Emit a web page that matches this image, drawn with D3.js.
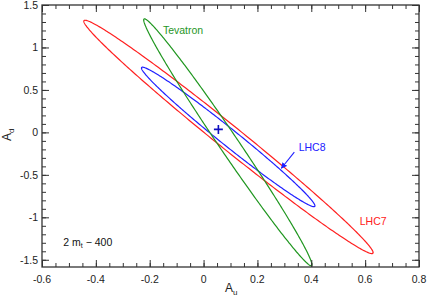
<!DOCTYPE html>
<html>
<head>
<meta charset="utf-8">
<script src="https://cdn.jsdelivr.net/npm/d3@7"></script>
<style>
  body { margin: 0; background: #fff; }
  svg text { font-family: "Liberation Sans", Arial, sans-serif; }
</style>
</head>
<body>
<svg id="chart" width="427" height="300"></svg>
<script>
// ellipse = two ends of the long axis + one end of the short (conjugate) axis
const ellipseNames = ["LHC7", "LHC8", "Tevatron"];
const ellipseColors = ["#ff2020", "#2020ff", "#1f961f"];
const tipA = [[-0.444, 1.316], [-0.230, 0.764], [-0.221, 1.336]];
const tipB = [[0.629, -1.423], [0.413, -0.871], [0.401, -1.569]];
const sidePt = [[0.120, 0.057], [0.111, 0.025], [0.119, -0.054]];
const bestFit = [0.055, 0.035];

const xTicks = [-0.6, -0.4, -0.2, 0, 0.2, 0.4, 0.6, 0.8];
const yTicks = [-1.5, -1, -0.5, 0, 0.5, 1, 1.5];

const width = 427, height = 300;
const margin = {left: 42, right: 8, top: 5, bottom: 33};

const x = d3.scaleLinear().domain([-0.6, 0.8]).range([margin.left, width - margin.right]);
const y = d3.scaleLinear().domain([-1.585, 1.5]).range([height - margin.bottom, margin.top]);

const svg = d3.select("#chart");

// ellipses
const line = d3.line().x(d => x(d[0])).y(d => y(d[1])).curve(d3.curveLinearClosed);
ellipseNames.forEach((name, i) => {
    const c = [(tipA[i][0] + tipB[i][0]) / 2, (tipA[i][1] + tipB[i][1]) / 2];
    const a = [tipA[i][0] - c[0], tipA[i][1] - c[1]];
    const b = [sidePt[i][0] - c[0], sidePt[i][1] - c[1]];
    const pts = d3.range(0, 2 * Math.PI, Math.PI / 180).map(t => [
        c[0] + a[0] * Math.cos(t) + b[0] * Math.sin(t),
        c[1] + a[1] * Math.cos(t) + b[1] * Math.sin(t)
    ]);
    svg.append("path")
        .attr("d", line(pts))
        .attr("fill", "none")
        .attr("stroke", ellipseColors[i])
        .attr("stroke-width", 1.2);
});

// best fit point
svg.append("path")
    .attr("d", d3.symbol(d3.symbolPlus, 28)())
    .attr("transform", `translate(${x(bestFit[0])},${y(bestFit[1])})`)
    .attr("fill", "none")
    .attr("stroke", "#1010c0")
    .attr("stroke-width", 1.6);

// axes, ticks on all four sides pointing inward
const axisColor = "#333";
function minor(domain, step) {
    return d3.range(Math.ceil(domain[0] / step), Math.floor(domain[1] / step) + 1).map(k => k * step);
}
const xMinor = minor(x.domain(), 0.05);
const yMinor = minor(y.domain(), 0.1);

function drawAxis(axisGen, transform, ticks, minorTicks, majorLen, minorLen) {
    const gMinor = svg.append("g").attr("transform", transform)
        .call(axisGen.tickValues(minorTicks).tickSize(minorLen).tickFormat(""));
    gMinor.select(".domain").remove();
    gMinor.selectAll("line").attr("stroke", axisColor).attr("stroke-width", 1);
    const g = svg.append("g").attr("transform", transform)
        .call(axisGen.tickValues(ticks).tickSize(majorLen).tickFormat(""));
    g.select(".domain").remove();
    g.selectAll("line").attr("stroke", axisColor).attr("stroke-width", 1);
    return g;
}

drawAxis(d3.axisTop(x), `translate(0,${y.range()[0]})`, xTicks, xMinor, 7, 4);
drawAxis(d3.axisBottom(x), `translate(0,${y.range()[1]})`, xTicks, xMinor, 7, 4);
drawAxis(d3.axisRight(y), `translate(${x.range()[0]},0)`, yTicks, yMinor, 7, 4);
drawAxis(d3.axisLeft(y), `translate(${x.range()[1]},0)`, yTicks, yMinor, 7, 4);

// frame
svg.append("rect")
    .attr("x", x.range()[0]).attr("y", y.range()[1])
    .attr("width", x.range()[1] - x.range()[0])
    .attr("height", y.range()[0] - y.range()[1])
    .attr("fill", "none").attr("stroke", axisColor).attr("stroke-width", 1.3);

// tick labels
svg.append("g").selectAll("text").data(xTicks).join("text")
    .attr("x", d => x(d)).attr("y", y.range()[0] + 16)
    .attr("text-anchor", "middle")
    .attr("font-size", 10.5).attr("fill", "#222")
    .text(d => d);
svg.append("g").selectAll("text").data(yTicks).join("text")
    .attr("x", x.range()[0] - 4).attr("y", d => y(d) + 4)
    .attr("text-anchor", "end")
    .attr("font-size", 10.5).attr("fill", "#222")
    .text(d => d);

// axis titles
const xl = svg.append("text").attr("x", 225).attr("y", 292).attr("font-size", 12).attr("fill", "#222");
xl.append("tspan").text("A");
xl.append("tspan").attr("font-size", 8).attr("dy", 3).text("u");

const yl = svg.append("text").attr("transform", "translate(11,141) rotate(-90)")
    .attr("font-size", 12).attr("fill", "#222");
yl.append("tspan").text("A");
yl.append("tspan").attr("font-size", 8).attr("dy", 3).text("d");

// labels
svg.append("text").attr("x", x(-0.151)).attr("y", y(1.162))
    .attr("font-size", 10.5).attr("fill", ellipseColors[2]).text("Tevatron");
svg.append("text").attr("x", x(0.353)).attr("y", y(-0.221))
    .attr("font-size", 10.5).attr("fill", ellipseColors[1]).text("LHC8");
svg.append("text").attr("x", x(0.580)).attr("y", y(-1.096))
    .attr("font-size", 10.5).attr("fill", ellipseColors[0]).text("LHC7");

const mt = svg.append("text").attr("x", x(-0.521)).attr("y", y(-1.332))
    .attr("font-size", 10.5).attr("fill", "#111");
mt.append("tspan").text("2 m");
mt.append("tspan").attr("font-size", 7).attr("dy", 2.5).text("t");
mt.append("tspan").attr("dy", -2.5).text(" \u2212 400");

// arrow LHC8 label -> ellipse
svg.append("defs").append("marker")
    .attr("id", "head").attr("viewBox", "0 0 10 10")
    .attr("refX", 9).attr("refY", 5)
    .attr("markerWidth", 6).attr("markerHeight", 6)
    .attr("markerUnits", "userSpaceOnUse")
    .attr("orient", "auto")
    .append("path").attr("d", "M0,0 L10,5 L0,10 Z").attr("fill", ellipseColors[1]);
svg.append("line")
    .attr("x1", x(0.337)).attr("y1", y(-0.232))
    .attr("x2", x(0.289)).attr("y2", y(-0.422))
    .attr("stroke", ellipseColors[1]).attr("stroke-width", 1.1)
    .attr("marker-end", "url(#head)");
</script>
</body>
</html>
